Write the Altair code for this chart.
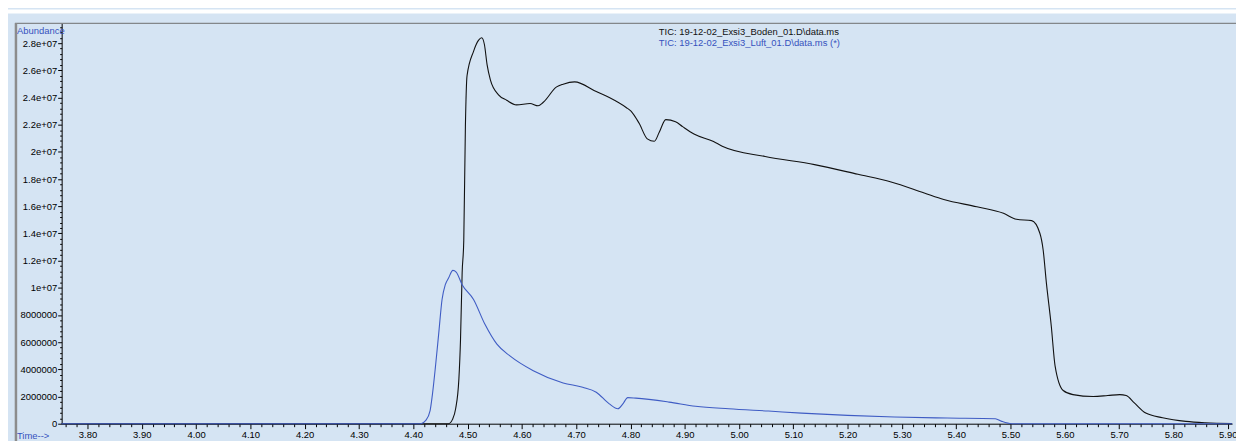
import json
import altair as alt
import pandas as pd

# ---- data ----
BODEN_TIME = [3.752, 4.465, 4.472, 4.478, 4.484, 4.487, 4.490, 4.493, 4.496, 4.499,
              4.511, 4.520, 4.526, 4.531, 4.536, 4.542, 4.557, 4.572, 4.590, 4.615,
              4.630, 4.639, 4.664, 4.676, 4.697, 4.737, 4.761, 4.792, 4.801, 4.816,
              4.831, 4.844, 4.853, 4.865, 4.883, 4.896, 4.917, 4.953, 4.969, 5.048,
              5.139, 5.219, 5.280, 5.341, 5.377, 5.438, 5.487, 5.511, 5.539, 5.554,
              5.560, 5.566, 5.575, 5.582, 5.597, 5.615, 5.652, 5.679, 5.701, 5.713,
              5.728, 5.749, 5.780, 5.823, 5.859, 5.908]
BODEN_ABUND = [0, 0, 3.0e5, 1.1e6, 3.3e6, 6.2e6, 1.11e7, 1.35e7, 2.19e7, 2.56e7,
               2.74e7, 2.82e7, 2.84e7, 2.79e7, 2.64e7, 2.53e7, 2.42e7, 2.38e7, 2.346e7, 2.356e7,
               2.339e7, 2.363e7, 2.478e7, 2.498e7, 2.515e7, 2.444e7, 2.40e7, 2.327e7, 2.30e7, 2.21e7,
               2.096e7, 2.078e7, 2.144e7, 2.237e7, 2.222e7, 2.186e7, 2.132e7, 2.076e7, 2.042e7, 1.966e7,
               1.906e7, 1.835e7, 1.779e7, 1.698e7, 1.650e7, 1.596e7, 1.548e7, 1.504e7, 1.494e7, 1.401e7,
               1.28e7, 1.036e7, 7.19e6, 4.26e6, 2.44e6, 2.14e6, 2.00e6, 2.07e6, 2.14e6, 2.07e6,
               1.53e6, 7.8e5, 4.4e5, 1.7e5, 7.0e4, 2.0e4]

LUFT_TIME = [3.752, 4.414, 4.423, 4.431, 4.435, 4.441, 4.447, 4.453, 4.459, 4.465,
             4.473, 4.479, 4.490, 4.511, 4.532, 4.554, 4.578, 4.621, 4.676, 4.712,
             4.737, 4.761, 4.777, 4.786, 4.795, 4.810, 4.871, 4.920, 4.981, 5.054,
             5.115, 5.200, 5.286, 5.383, 5.472, 5.484, 5.502, 5.908]
LUFT_ABUND = [0, 0, 2.4e5, 9.7e5, 2.07e6, 4.26e6, 6.7e6, 9.14e6, 1.023e7, 1.072e7,
              1.128e7, 1.116e7, 1.023e7, 9.14e6, 7.31e6, 5.85e6, 4.99e6, 3.9e6, 3.0e6, 2.68e6,
              2.32e6, 1.46e6, 1.1e6, 1.46e6, 1.92e6, 1.88e6, 1.59e6, 1.29e6, 1.1e6, 9.3e5,
              7.8e5, 6.1e5, 4.9e5, 4.2e5, 3.7e5, 1.7e5, 0, 0]

SERIES_NAMES = ["TIC: 19-12-02_Exsi3_Boden_01.D\\data.ms",
                "TIC: 19-12-02_Exsi3_Luft_01.D\\data.ms (*)"]

X_DOMAIN = [3.7524, 5.9079]
Y_DOMAIN = [0, 2.946e7]
X_TICKS = [3.8, 3.9, 4.0, 4.1, 4.2, 4.3, 4.4, 4.5, 4.6, 4.7, 4.8, 4.9,
           5.0, 5.1, 5.2, 5.3, 5.4, 5.5, 5.6, 5.7, 5.8, 5.9]
X_TICK_LABELS = ["3.80", "3.90", "4.00", "4.10", "4.20", "4.30", "4.40", "4.50",
                 "4.60", "4.70", "4.80", "4.90", "5.00", "5.10", "5.20", "5.30",
                 "5.40", "5.50", "5.60", "5.70", "5.80", "5.90"]
X_ALL_TICKS = [3.76, 3.78] + [round(3.8 + 0.02 * i, 2) for i in range(106)]
Y_TICKS = [0, 2000000, 4000000, 6000000, 8000000, 10000000, 12000000, 14000000,
           16000000, 18000000, 20000000, 22000000, 24000000, 26000000, 28000000]
Y_TICK_LABELS = ["0", "2000000", "4000000", "6000000", "8000000", "1e+07", "1.2e+07",
                 "1.4e+07", "1.6e+07", "1.8e+07", "2e+07", "2.2e+07", "2.4e+07",
                 "2.6e+07", "2.8e+07"]
Y_ALL_TICKS = [400000 * i for i in range(74)]

BG = "#D5E4F3"
BLACK = "#111111"
BLUE = "#3F5CC4"
LABEL_BLUE = "#3552BE"
FONT = "Liberation Sans"

W, H = 1178, 403

boden = pd.DataFrame({"time": BODEN_TIME, "abund": BODEN_ABUND, "series": SERIES_NAMES[0]})
luft = pd.DataFrame({"time": LUFT_TIME, "abund": LUFT_ABUND, "series": SERIES_NAMES[1]})

xscale = alt.Scale(domain=X_DOMAIN, nice=False, zero=False)
yscale = alt.Scale(domain=Y_DOMAIN, nice=False, zero=False)

xv, xl = json.dumps(X_TICKS), json.dumps(X_TICK_LABELS)
yv, yl = json.dumps(Y_TICKS), json.dumps(Y_TICK_LABELS)
x_label_expr = f"indexof({xv}, datum.value) >= 0 ? {xl}[indexof({xv}, datum.value)] : ''"
y_label_expr = f"indexof({yv}, datum.value) >= 0 ? {yl}[indexof({yv}, datum.value)] : ''"
x_major_test = f"indexof({xv}, datum.value) >= 0"
y_major_test = f"indexof({yv}, datum.value) >= 0"

x_axis = alt.Axis(values=X_ALL_TICKS, labelExpr=x_label_expr, title="", grid=False,
                  tickSize={"condition": {"test": x_major_test, "value": 5}, "value": 3},
                  labelPadding=1, labelFont=FONT, labelFontSize=9.5, labelColor="black",
                  domainColor="black", tickColor="black", labelFlush=False, labelOverlap=False)
y_axis = alt.Axis(values=Y_ALL_TICKS, labelExpr=y_label_expr, title="", grid=False,
                  tickSize={"condition": {"test": y_major_test, "value": 4}, "value": 2},
                  labelPadding=1, labelFont=FONT, labelFontSize=9.5, labelColor="black",
                  domainColor="black", tickColor="black", labelBaseline="middle",
                  labelOverlap=False, labelFlush=False)

line_boden = alt.Chart(boden).mark_line(color=BLACK, strokeWidth=1.1, interpolate="monotone").encode(
    x=alt.X("time:Q", scale=xscale, axis=x_axis),
    y=alt.Y("abund:Q", scale=yscale, axis=y_axis),
)
line_luft = alt.Chart(luft).mark_line(color=BLUE, strokeWidth=1.1, interpolate="monotone").encode(
    x=alt.X("time:Q", scale=xscale, axis=x_axis),
    y=alt.Y("abund:Q", scale=yscale, axis=y_axis),
)

# window frame decorations
frame_top = alt.Chart(pd.DataFrame({"a": [0]})).mark_rule(color="#6E6E6E", strokeWidth=1).encode(
    x=alt.value(-47), x2=alt.value(W + 4), y=alt.value(0)
)
frame_left = alt.Chart(pd.DataFrame({"a": [0]})).mark_rule(color="#8C8C8C", strokeWidth=2.5).encode(
    x=alt.value(-46), y=alt.value(0), y2=alt.value(H + 20)
)
white_strip = alt.Chart(pd.DataFrame({"a": [0]})).mark_rect(color="white").encode(
    x=alt.value(-54), x2=alt.value(W + 4), y=alt.value(-14), y2=alt.value(-10)
)

labels = pd.DataFrame({
    "txt": ["Abundance", "Time-->", SERIES_NAMES[0], SERIES_NAMES[1]],
    "px": [-45, -45, 601, 601],
    "py": [8, 415, 9, 19.5],
    "col": [LABEL_BLUE, LABEL_BLUE, "#111111", LABEL_BLUE],
})
texts = alt.Chart(labels).mark_text(align="left", baseline="middle", font=FONT, fontSize=9.5).encode(
    x=alt.X("px:Q", scale=None), y=alt.Y("py:Q", scale=None), text="txt:N",
    color=alt.Color("col:N", scale=None),
)

chart = alt.layer(
    white_strip, frame_top, frame_left, line_boden, line_luft, texts
).properties(
    width=W, height=H,
    padding={"left": 54, "top": 14, "right": 4, "bottom": 16},
    autosize=alt.AutoSizeParams(type="none"),
).configure(background=BG).configure_view(strokeWidth=0)

chart.save("out.html", embed_options={"renderer": "svg", "actions": False})
